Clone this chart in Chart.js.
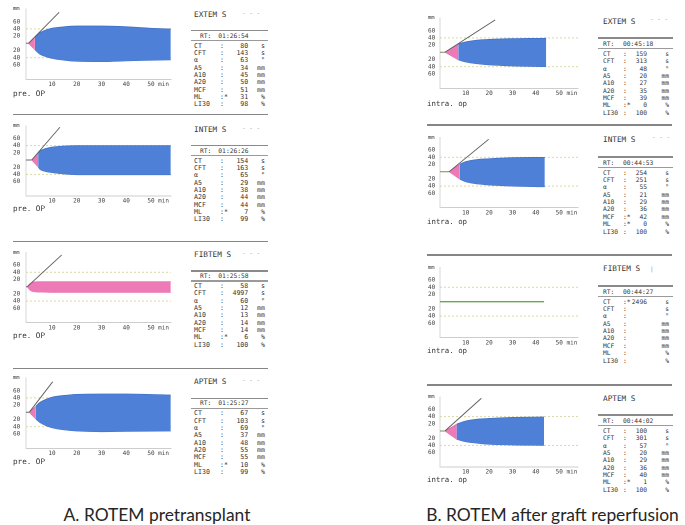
<!DOCTYPE html>
<html><head><meta charset="utf-8">
<script src="https://cdn.jsdelivr.net/npm/chart.js@4.4.1/dist/chart.umd.min.js"></script>
<style>
html,body{margin:0;padding:0;background:#fff;}
#root{position:relative;width:685px;height:525px;overflow:hidden;background:#fff;}
canvas{position:absolute;}
.t{position:absolute;white-space:pre;font-family:"DejaVu Sans Mono",monospace;color:#333;line-height:1;}
.hl{position:absolute;background:#8c8c8c;}
.cap{position:absolute;font-family:Lato,"Open Sans",sans-serif;font-size:17.4px;color:#262626;white-space:nowrap;transform:translate(-50%,-50%);line-height:1;}
</style></head><body><div id="root"></div>
<script>
// ---------------- DATA ----------------
const paramNames = ['CT','CFT','α','A5','A10','A20','MCF','ML','LI30'];
const paramUnits = ['s','s','°','mm','mm','mm','mm','%','%'];
const xTickValues = [10,20,30,40,50];
const xTickLabels = ['10','20','30','40','50 min'];
const yTickValues = [60,40,20,-20,-40,-60];
const yTickLabels = ['60','40','20','20','40','60'];
const dashedLevels = [40,-40];

const testNames = ['EXTEM S','INTEM S','FIBTEM S','APTEM S'];
const preRT = ['01:26:54','01:26:26','01:25:58','01:25:27'];
const postRT = ['00:45:18','00:44:53','00:44:27','00:44:02'];

const preExtemValues  = ['80','143','63','34','45','50','51','31','98'];
const preIntemValues  = ['154','163','65','29','38','44','44','7','99'];
const preFibtemValues = ['58','4997','60','12','13','14','14','6','100'];
const preAptemValues  = ['67','103','69','37','48','55','55','10','99'];
const preFlags = [['ML'],['ML'],['ML'],['ML']];

const postExtemValues  = ['159','313','48','20','27','35','39','0','100'];
const postIntemValues  = ['254','251','55','21','29','36','42','0','100'];
const postFibtemValues = ['2496','','','','','','','',''];
const postAptemValues  = ['100','301','57','20','29','36','40','1','100'];
const postFlags = [['ML'],['MCF','ML'],['CT'],['ML']];

// clot curves (minutes, mm amplitude above / below baseline)
const preExtemTime  = [0.5, 3.1, 5, 7.5, 10, 15, 20, 30, 40, 50, 58];
const preExtemUpper = [0, 18, 29, 37, 42, 46, 48, 48, 46, 42, 40];
const preExtemLower = [0, -18, -30, -37, -42, -47, -50, -51, -49, -47, -46];
const preIntemTime  = [1.8, 4.4, 5, 7.5, 10, 15, 20, 30, 40, 58];
const preIntemUpper = [0, 20, 25, 32, 36, 39, 40, 40, 40, 40];
const preIntemLower = [0, -19, -25, -32, -35, -39, -41, -41, -41, -41];
const preFibtemTime  = [0, 1, 2.5, 5, 10, 20, 30, 40, 50, 58];
const preFibtemUpper = [0, 8, 13, 14, 14, 14, 14, 14, 14, 14];
const preFibtemLower = [0, -9, -14, -15, -16, -16, -16, -16, -16, -16];
const preAptemTime  = [0.8, 3.5, 5, 7.5, 10, 15, 20, 30, 40, 58];
const preAptemUpper = [0, 17, 27, 36, 42, 47, 50, 51, 51, 48];
const preAptemLower = [0, -19, -28, -37, -43, -49, -52, -54, -53, -52];

const postExtemTime  = [1.1, 6.8, 10, 15, 20, 30, 44.4];
const postExtemUpper = [0, 23, 29, 34, 36, 38, 39];
const postExtemLower = [0, -21, -27, -32, -35, -38, -40];
const postIntemTime  = [2.9, 7.5, 10, 15, 20, 30, 43.8];
const postIntemUpper = [0, 21, 28, 34, 36, 39, 40];
const postIntemLower = [0, -21, -28, -34, -37, -40, -42];
const postFibtemTime  = [-1, 43.5];
const postFibtemLine  = [0, 0];
const postAptemTime  = [1.1, 6.1, 10, 15, 20, 30, 43.5];
const postAptemUpper = [0, 19, 28, 33, 35, 38, 39];
const postAptemLower = [0, -23, -30, -34, -37, -39, -40];

// CT->CFT (pink) portion: number of leading points
const prePinkCount  = [2, 2, 10, 2];
const postPinkCount = [2, 2, 0, 2];
// alpha tangent end points [minutes, mm]
const preAlphaEnd  = [[12.9, 86], [13.2, 91], [13.9, 88], [10.3, 85]];
const postAlphaEnd = [[22.6, 90], [19.8, 90], null, [16.7, 91]];

// ---------------- LAYOUT / STYLE ----------------
const BLUE = '#4f80d8', BLUE_EDGE = '#3f6ec4', PINK = '#ee79b7', PINK_EDGE = '#dc64a2';
const MONO = '"DejaVu Sans Mono", monospace';
const root = document.getElementById('root');
const pxPerMm = 0.36;

function txt(x, y, s, size, align, extra) {
  const d = document.createElement('div');
  d.className = 't';
  d.textContent = s;
  d.style.left = x + 'px';
  d.style.top = y + 'px';
  d.style.fontSize = size + 'px';
  d.style.transform = align === 'right' ? 'translate(-100%,-50%)' : 'translate(0,-50%)';
  if (extra) Object.assign(d.style, extra);
  root.appendChild(d);
}
function hline(x1, x2, y, h, c) {
  const d = document.createElement('div');
  d.className = 'hl';
  d.style.left = x1 + 'px'; d.style.width = (x2 - x1) + 'px';
  d.style.top = (y - h / 2) + 'px'; d.style.height = h + 'px';
  if (c) d.style.background = c;
  root.appendChild(d);
}
function pts(t, v) { return t.map((x, i) => ({x, y: v[i]})); }

function buildChart(geo, curve) {
  const yMin = -100, yMax = 95;
  const areaTop = geo.baseline - yMax * pxPerMm;
  const areaBottom = geo.baseline - yMin * pxPerMm;
  const cLeft = geo.areaLeft - geo.yAxisW;
  const cTop = Math.floor(areaTop) - 6;
  const padTop = areaTop - cTop;
  const xAxisH = 9;
  const cW = Math.ceil(geo.areaRight - cLeft) + 10;
  const padRight = cW - (geo.areaRight - cLeft);
  const cH = Math.ceil(areaBottom - cTop + xAxisH) + 3;
  const padBottom = cH - (areaBottom - cTop) - xAxisH;
  const cv = document.createElement('canvas');
  cv.width = cW; cv.height = cH;
  cv.style.left = cLeft + 'px'; cv.style.top = cTop + 'px';
  cv.style.width = cW + 'px'; cv.style.height = cH + 'px';
  root.appendChild(cv);

  const ds = [];
  dashedLevels.forEach(l => ds.push({
    data: [{x: geo.xMin, y: l}, {x: geo.xMax, y: l}],
    borderColor: '#d9d9a4', borderWidth: 1, borderDash: [2, 2], fill: false, order: 6
  }));
  if (curve.time && curve.upper) {
    const n = curve.pink;
    const t = curve.time, u = curve.upper, lo = curve.lower;
    if (n > 0) {
      ds.push({data: pts(t.slice(0, n), u.slice(0, n)), borderColor: PINK_EDGE, borderWidth: 0.6,
               backgroundColor: PINK, fill: '+1', order: 3, cubicInterpolationMode: 'monotone'});
      ds.push({data: pts(t.slice(0, n), lo.slice(0, n)), borderColor: PINK_EDGE, borderWidth: 0.6,
               fill: false, order: 3, cubicInterpolationMode: 'monotone'});
    }
    if (n < t.length) {
      const s = Math.max(n - 1, 0);
      ds.push({data: pts(t.slice(s), u.slice(s)), borderColor: BLUE_EDGE, borderWidth: 0.7,
               backgroundColor: BLUE, fill: '+1', order: 4, cubicInterpolationMode: 'monotone'});
      ds.push({data: pts(t.slice(s), lo.slice(s)), borderColor: BLUE_EDGE, borderWidth: 0.7,
               fill: false, order: 4, cubicInterpolationMode: 'monotone'});
    }
    // lead baseline before CT
    ds.push({data: [{x: geo.xMin, y: 0}, {x: t[0], y: 0}], borderColor: geo.leadColor, borderWidth: 1, fill: false, order: 1});
    if (curve.alpha) {
      ds.push({data: [{x: t[0], y: 0}, {x: curve.alpha[0], y: curve.alpha[1]}],
               borderColor: '#5a5a5a', borderWidth: 0.9, fill: false, order: 0});
    }
  }
  if (curve.flat) {
    ds.push({data: pts(curve.flat[0], curve.flat[1]), borderColor: '#6aa84f', borderWidth: 1.4, fill: false, order: 1});
  }

  new Chart(cv, {
    type: 'line',
    data: {datasets: ds},
    options: {
      responsive: false, animation: false, devicePixelRatio: 2,
      layout: {padding: {top: padTop, right: padRight, bottom: padBottom, left: 0}},
      plugins: {legend: {display: false}, tooltip: {enabled: false}},
      elements: {point: {radius: 0}, line: {tension: 0}},
      scales: {
        x: {
          type: 'linear', min: geo.xMin, max: geo.xMax,
          grid: {display: false, drawTicks: false},
          border: {display: true, color: '#cdcdcd', width: 1},
          afterBuildTicks: s => { s.ticks = xTickValues.map(v => ({value: v})); },
          afterFit: s => { s.height = xAxisH; },
          ticks: {
            autoSkip: false, maxRotation: 0, minRotation: 0, padding: 1.5,
            color: '#404040', font: {family: MONO, size: 6},
            callback: (v, i) => {
              const lab = xTickLabels[i];
              const extra = lab.length - 2;
              return ' '.repeat(extra) + lab;
            }
          }
        },
        y: {
          type: 'linear', min: yMin, max: yMax,
          grid: {display: false, drawTicks: false},
          border: {display: true, color: '#d6d6d6', width: 1},
          afterBuildTicks: s => { s.ticks = yTickValues.map(v => ({value: v})); },
          afterFit: s => { s.width = geo.yAxisW; },
          ticks: {
            autoSkip: false, crossAlign: 'far', padding: 0,
            color: '#404040', font: {family: MONO, size: 6},
            callback: (v, i) => yTickLabels[i]
          }
        }
      }
    }
  });
  txt(cLeft, geo.baseline - 34, 'mm', 5.5, 'left');
}

function table(T) {
  txt(T.nameX, T.ct + T.titleDy, T.title, 7.7, 'left');
  if (T.mark) txt(T.mark[0], T.ct + T.mark[1], T.mark[2], 6, 'left', {color: '#999'});
  hline(T.lineL, T.lineR, T.ct + T.topDy, 1.6, '#8a8a8a');
  txt(T.rtLabelX, T.ct + T.rtDy, 'RT:', 6.3, 'left');
  txt(T.rtValueX, T.ct + T.rtDy, T.rt, 6.3, 'left');
  hline(T.lineL, T.lineR, T.ct + T.rtLineDy, 1.1, '#9a9a9a');
  for (let i = 0; i < paramNames.length; i++) {
    const y = T.ct + i * T.dy;
    txt(T.nameX, y, paramNames[i], T.fs, 'left');
    txt(T.colonX, y, T.flags.includes(paramNames[i]) ? ':*' : ':', T.fs, 'left');
    if (T.values[i] !== '') txt(T.valueR, y, T.values[i], T.fs, 'right');
    txt(T.unitR, y, paramUnits[i], T.fs, 'right');
  }
}

// ----- left column (pretransplant)
const preCurves = [
  {time: preExtemTime, upper: preExtemUpper, lower: preExtemLower},
  {time: preIntemTime, upper: preIntemUpper, lower: preIntemLower},
  {time: preFibtemTime, upper: preFibtemUpper, lower: preFibtemLower},
  {time: preAptemTime, upper: preAptemUpper, lower: preAptemLower}
];
const preValues = [preExtemValues, preIntemValues, preFibtemValues, preAptemValues];
const leftBase = [43.3, 160, 286.7, 412.3];
const leftCT = [45.7, 160.7, 286, 413.3];
const leftOpY = [94.3, 209.3, 335.7, 461.7];
const leftMarks = [[242, -33, '- - -'], [242, -33, '- - -'], [242, -33, '- - -'], [242, -33, '- - -']];
for (let k = 0; k < 4; k++) {
  const c = preCurves[k];
  c.pink = prePinkCount[k];
  c.alpha = preAlphaEnd[k];
  buildChart({areaLeft: 26, areaRight: 171, yAxisW: 13, baseline: leftBase[k], xMin: -0.5, xMax: 58.1, leadColor: '#6a6a6a'}, c);
  txt(13, leftOpY[k], 'pre. OP', 7.6, 'left');
  table({nameX: 194, colonX: 220, valueR: 248.3, unitR: 265, lineL: 191, lineR: 268, fs: 6.6,
         rtLabelX: 200, rtValueX: 218.3, ct: leftCT[k], titleDy: -31, topDy: -15, rtDy: -10, rtLineDy: -5, dy: 7.33,
         title: testNames[k], rt: preRT[k], values: preValues[k], flags: preFlags[k], mark: leftMarks[k]});
}
[114.5, 241.7, 368.3].forEach(y => hline(13, 268, y, 1.6, '#858585'));

// ----- right column (after reperfusion)
const postCurves = [
  {time: postExtemTime, upper: postExtemUpper, lower: postExtemLower},
  {time: postIntemTime, upper: postIntemUpper, lower: postIntemLower},
  {flat: [postFibtemTime, postFibtemLine]},
  {time: postAptemTime, upper: postAptemUpper, lower: postAptemLower}
];
const postValues = [postExtemValues, postIntemValues, postFibtemValues, postAptemValues];
const rightBase = [52.3, 171.7, 301.7, 431];
const rightCT = [54, 172.7, 301.7, 431];
const rightOpY = [104, 221.7, 351, 480];
const rightMarks = [[650, -35, '- - -'], [652, -36, '- - -'], [650, -33, '|'], null];
for (let k = 0; k < 4; k++) {
  const c = postCurves[k];
  c.pink = postPinkCount[k];
  c.alpha = postAlphaEnd[k];
  buildChart({areaLeft: 440, areaRight: 578, yAxisW: 12, baseline: rightBase[k], xMin: -1, xMax: 58, leadColor: '#6f8f55'}, c);
  txt(427, rightOpY[k], 'intra. op', 7.4, 'left');
  table({nameX: 603, colonX: 623, valueR: 647, unitR: 669, lineL: 598, lineR: 673, fs: 6.3,
         rtLabelX: 603, rtValueX: 623, ct: rightCT[k], titleDy: -32.5, topDy: -15.8, rtDy: -10.2, rtLineDy: -5.3, dy: 7.35,
         title: testNames[k], rt: postRT[k], values: postValues[k], flags: postFlags[k], mark: rightMarks[k]});
}
[125, 255, 385].forEach(y => hline(427, 672, y, 1.6, '#858585'));

// captions
function cap(x, y, s) {
  const d = document.createElement('div');
  d.className = 'cap'; d.textContent = s;
  d.style.left = x + 'px'; d.style.top = y + 'px';
  root.appendChild(d);
}
cap(157, 515, 'A. ROTEM pretransplant');
cap(552.5, 515, 'B. ROTEM after graft reperfusion');
</script></body></html>
